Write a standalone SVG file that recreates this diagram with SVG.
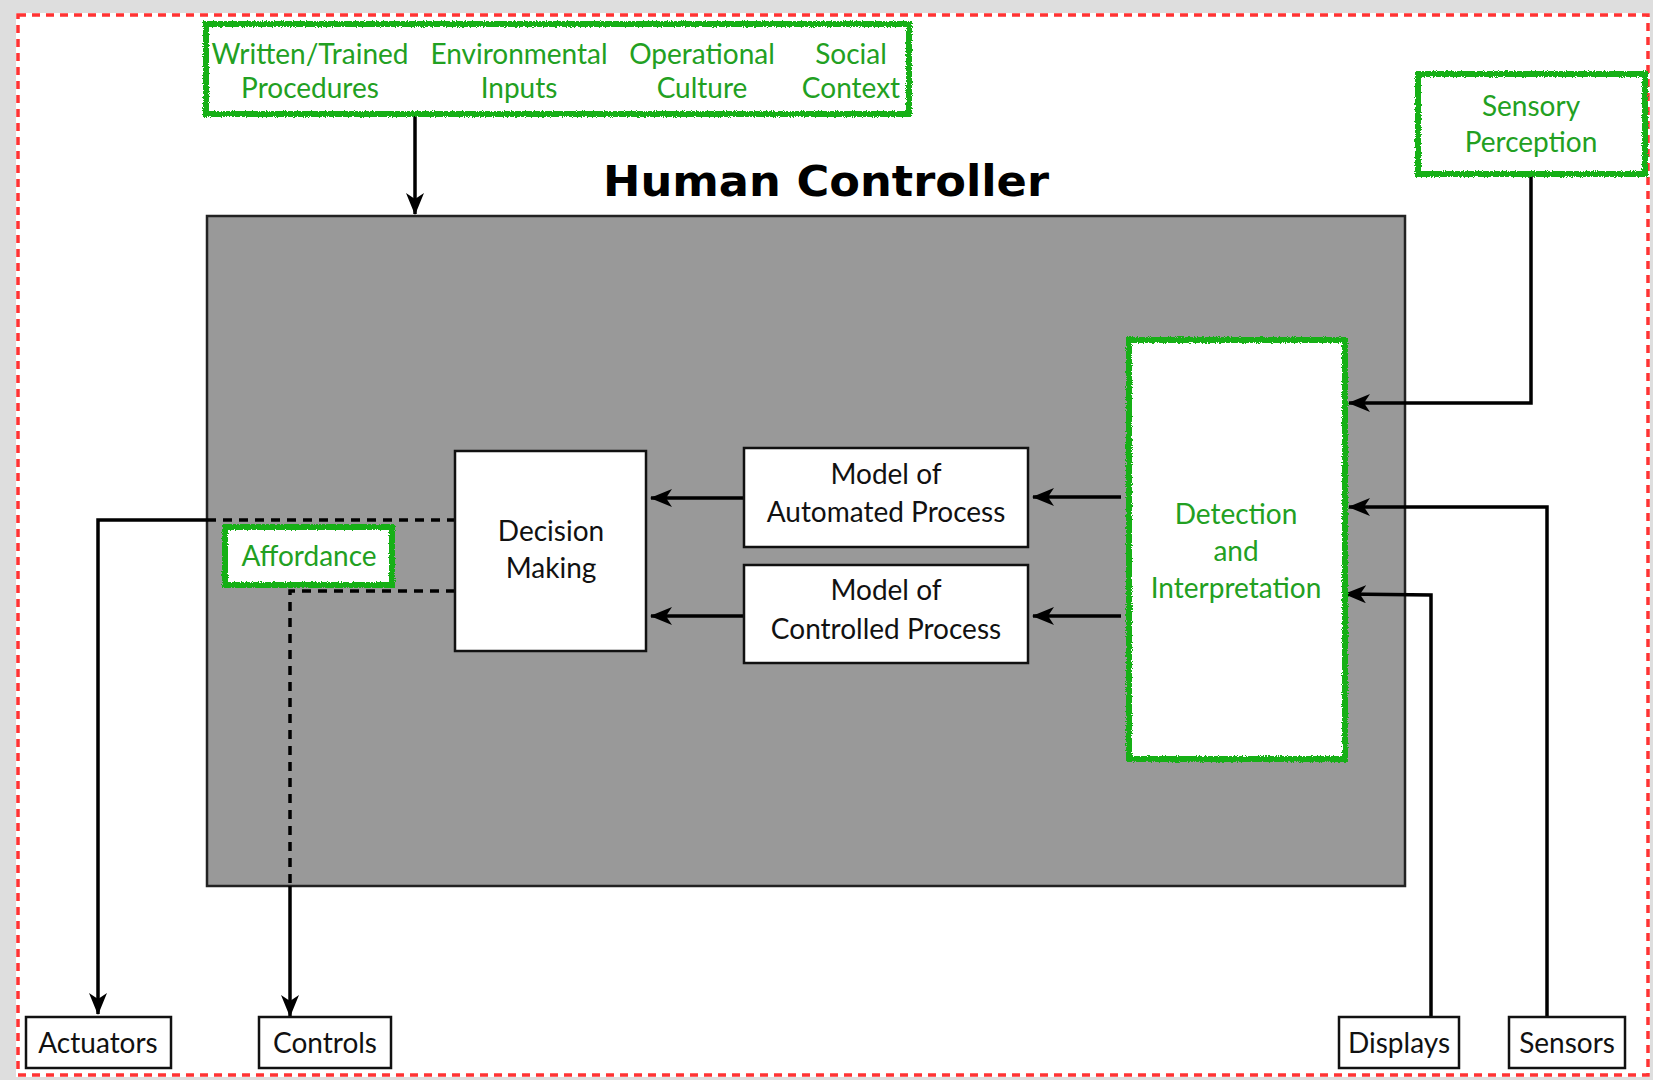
<svg xmlns="http://www.w3.org/2000/svg" width="1653" height="1080" viewBox="0 0 1653 1080">
  <defs>
    <style>
      .lbl { font-family: "Lato", "Open Sans", "Liberation Sans", sans-serif; font-size: 28px; fill: #111; text-anchor: middle; }
      .glbl { font-family: "Lato", "Open Sans", "Liberation Sans", sans-serif; font-size: 28px; fill: #22a022; text-anchor: middle; }
      .title { font-family: "DejaVu Sans", "Liberation Sans", sans-serif; font-size: 42px; font-weight: bold; fill: #000; text-anchor: middle; }
      .box { fill: #fff; stroke: #111; stroke-width: 2.5; }
      .gbox { fill: #fff; stroke: #12b012; stroke-width: 6; filter: url(#rough); }
      .wire { fill: none; stroke: #000; stroke-width: 3.5; }
      .dash { fill: none; stroke: #000; stroke-width: 3.5; stroke-dasharray: 9 7; }
    </style>
    <filter id="rough" x="-5%" y="-5%" width="110%" height="110%">
      <feTurbulence type="fractalNoise" baseFrequency="0.9" numOctaves="2" seed="3" result="n"/>
      <feDisplacementMap in="SourceGraphic" in2="n" scale="4" xChannelSelector="R" yChannelSelector="G"/>
    </filter>
    <marker id="arrow" viewBox="0 0 22 18" refX="21" refY="9" markerWidth="22" markerHeight="18" markerUnits="userSpaceOnUse" orient="auto">
      <path d="M0,0 L22,9 L0,18 L6,9 Z" fill="#000"/>
    </marker>
  </defs>

  <!-- page background and frame -->
  <rect x="0" y="0" width="1653" height="1080" fill="#dedede"/>
  <rect x="16" y="13" width="1634" height="1064" fill="#fff"/>
  <rect x="18" y="15" width="1630" height="1060" fill="none" stroke="#ff3333" stroke-width="3.5" stroke-dasharray="8 6"/>

  <!-- container -->
  <g id="human-controller">
    <rect x="207" y="216" width="1198" height="670" fill="#999" stroke="#222" stroke-width="2.5"/>
    <text class="title" x="826" y="196" textLength="446" lengthAdjust="spacingAndGlyphs">Human Controller</text>
  </g>

  <!-- connectors -->
  <g id="connectors">
    <line class="wire" x1="415" y1="114" x2="415" y2="214" marker-end="url(#arrow)"/>
    <line class="wire" x1="743" y1="498" x2="651" y2="498" marker-end="url(#arrow)"/>
    <line class="wire" x1="743" y1="616" x2="651" y2="616" marker-end="url(#arrow)"/>
    <line class="wire" x1="1121" y1="497" x2="1033" y2="497" marker-end="url(#arrow)"/>
    <line class="wire" x1="1121" y1="616" x2="1033" y2="616" marker-end="url(#arrow)"/>
    <polyline class="wire" points="1531,174 1531,403 1349,403" marker-end="url(#arrow)"/>
    <polyline class="wire" points="1547,1017 1547,507 1349,507" marker-end="url(#arrow)"/>
    <polyline class="wire" points="1431,1017 1431,595 1345,594" marker-end="url(#arrow)"/>
    <line class="dash" x1="207" y1="520" x2="455" y2="520"/>
    <polyline class="wire" points="207,520 98,520 98,1014" marker-end="url(#arrow)"/>
    <polyline class="dash" points="455,591 290,591 290,886"/>
    <line class="wire" x1="290" y1="886" x2="290" y2="1016" marker-end="url(#arrow)"/>
  </g>

  <g id="influences">
    <rect class="gbox" x="206" y="24" width="703" height="90"/>
    <text class="glbl" x="310" y="64">Written/Trained</text>
    <text class="glbl" x="310" y="98">Procedures</text>
    <text class="glbl" x="519" y="64">Environmental</text>
    <text class="glbl" x="519" y="98">Inputs</text>
    <text class="glbl" x="702" y="64">Operational</text>
    <text class="glbl" x="702" y="98">Culture</text>
    <text class="glbl" x="851" y="64">Social</text>
    <text class="glbl" x="851" y="98">Context</text>
  </g>

  <g id="sensory-perception">
    <rect class="gbox" x="1418" y="74" width="227" height="100"/>
    <text class="glbl" x="1531" y="116">Sensory</text>
    <text class="glbl" x="1531" y="152">Perception</text>
  </g>

  <g id="detection">
    <rect class="gbox" x="1129" y="340" width="216" height="419"/>
    <text class="glbl" x="1236" y="524">Detection</text>
    <text class="glbl" x="1236" y="561">and</text>
    <text class="glbl" x="1236" y="598">Interpretation</text>
  </g>

  <g id="model-automated">
    <rect class="box" x="744" y="448" width="284" height="99"/>
    <text class="lbl" x="886" y="484">Model of</text>
    <text class="lbl" x="886" y="522">Automated Process</text>
  </g>

  <g id="model-controlled">
    <rect class="box" x="744" y="565" width="284" height="98"/>
    <text class="lbl" x="886" y="600">Model of</text>
    <text class="lbl" x="886" y="639">Controlled Process</text>
  </g>

  <g id="decision-making">
    <rect class="box" x="455" y="451" width="191" height="200"/>
    <text class="lbl" x="551" y="541">Decision</text>
    <text class="lbl" x="551" y="578">Making</text>
  </g>

  <g id="affordance">
    <rect class="gbox" x="225" y="527" width="167" height="58"/>
    <text class="glbl" x="309" y="566">Affordance</text>
  </g>

  <g id="actuators">
    <rect class="box" x="26" y="1017" width="145" height="51"/>
    <text class="lbl" x="98" y="1053">Actuators</text>
  </g>

  <g id="controls">
    <rect class="box" x="259" y="1017" width="132" height="51"/>
    <text class="lbl" x="325" y="1053">Controls</text>
  </g>

  <g id="displays">
    <rect class="box" x="1339" y="1017" width="120" height="51"/>
    <text class="lbl" x="1399" y="1053">Displays</text>
  </g>

  <g id="sensors">
    <rect class="box" x="1509" y="1017" width="116" height="51"/>
    <text class="lbl" x="1567" y="1053">Sensors</text>
  </g>
</svg>
